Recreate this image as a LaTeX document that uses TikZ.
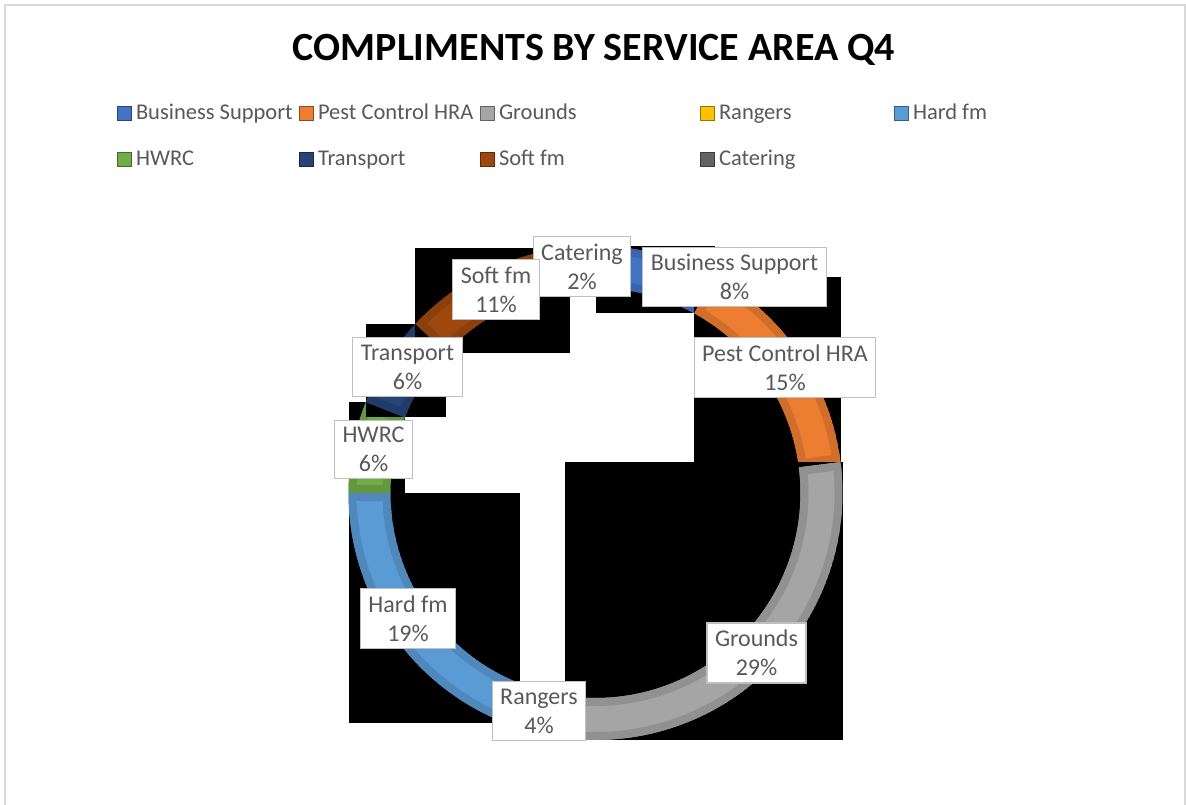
\documentclass[tikz,border=0pt]{standalone}
\usepackage{fontspec}
\setmainfont{Carlito}
\usetikzlibrary{positioning}
\definecolor{cbus}{HTML}{4472C4}
\definecolor{cpest}{HTML}{ED7D31}
\definecolor{cgro}{HTML}{A5A5A5}
\definecolor{cran}{HTML}{FFC000}
\definecolor{chard}{HTML}{5B9BD5}
\definecolor{chwrc}{HTML}{70AD47}
\definecolor{ctra}{HTML}{264478}
\definecolor{csoft}{HTML}{9E480E}
\definecolor{ccat}{HTML}{636363}
\definecolor{labtxt}{HTML}{595959}

\begin{document}
\begin{tikzpicture}
  [x=1pt,y=1pt,
   lab/.style={draw=black!25,fill=white,text=labtxt,align=center,line width=1.2pt,
     font=\fontsize{24}{29}\selectfont,inner xsep=8pt,inner ysep=7pt},
   legsq/.style={minimum size=14pt,inner sep=0pt,draw=#1!60!black,fill=#1,line width=.6pt},
   legtxt/.style={text=labtxt,font=\fontsize{22.5}{27}\selectfont,inner sep=0pt,
     text height=17pt,text depth=4pt}]
  \useasboundingbox (0,0) rectangle (1186,805);
  \fill[white] (0,0) rectangle (1186,805);
  \draw[black!15,line width=2pt] (5,-5) rectangle (1185,800);
  \node[font=\bfseries\fontsize{40}{44}\selectfont] (title) at (594,755) {COMPLIMENTS BY SERVICE AREA Q4};
  % legend
  \foreach \n/\col/\x/\y/\t in {bus/cbus/124.5/691.5/Business Support,
      pest/cpest/306.5/691.5/Pest Control HRA, gro/cgro/487.5/691.5/Grounds,
      ran/cran/707.5/691.5/Rangers, hard/chard/901.5/691.5/Hard fm,
      hwrc/chwrc/124.5/646/HWRC, tra/ctra/306.5/646/Transport,
      soft/csoft/487.5/646/Soft fm, cat/ccat/707.5/646/Catering}
  {
    \node[legsq=\col] (sq\n) at (\x,\y) {};
    \node[legtxt,right=4pt of sq\n] (lt\n) {\t};
  }
  % doughnut, each slice on its black box
  \foreach \col/\sa/\ea/\xa/\ya/\xb/\yb in {
      cbus/90/61.2/595.5/491.6/714.5/559,
      cpest/61.2/7.2/694.3/337.7/840.5/528.4,
      cgro/7.2/-97.2/564.5/65/842.5/343,
      cran/-97.2/-111.6/504.6/66.9/569.8/121.4,
      chard/-111.6/-180/348.5/82.3/520/312,
      chwrc/-180/-201.6/348.5/312/404.9/402.9,
      ctra/-201.6/-223.2/365.8/387.5/446.1/481.1,
      csoft/-223.2/-262.8/415.4/452.3/569.8/557.1,
      ccat/-262.8/-270/564.5/515.4/595.5/559}
  {
    \fill[black] (\xa,\ya) rectangle (\xb,\yb);
    \begin{scope}[shift={(595.5,312)}]
      \clip (\sa:247) arc[start angle=\sa,end angle=\ea,radius=247]
        -- (\ea:205) arc[start angle=\ea,end angle=\sa,radius=205] -- cycle;
      \filldraw[fill=\col,draw=\col!88!black,line width=16pt]
        (\sa:247) arc[start angle=\sa,end angle=\ea,radius=247]
        -- (\ea:205) arc[start angle=\ea,end angle=\sa,radius=205] -- cycle;
    \end{scope}
  }
  % data labels
  \node[lab] (lcat) at (582,538.5) {Catering\\2\%};
  \node[lab] (lbus) at (734.5,528) {Business Support\\8\%};
  \node[lab] (lpest) at (785,437.5) {Pest Control HRA\\15\%};
  \node[lab] (lsoft) at (496,515.5) {Soft fm\\11\%};
  \node[lab] (ltra) at (407.5,438) {Transport\\6\%};
  \node[lab] (lhwrc) at (373.5,355.5) {HWRC\\6\%};
  \node[lab] (lhard) at (408,186.5) {Hard fm\\19\%};
  \node[lab] (lran) at (539,94) {Rangers\\4\%};
  \node[lab] (lgro) at (756.5,152) {Grounds\\29\%};
\end{tikzpicture}
\end{document}
